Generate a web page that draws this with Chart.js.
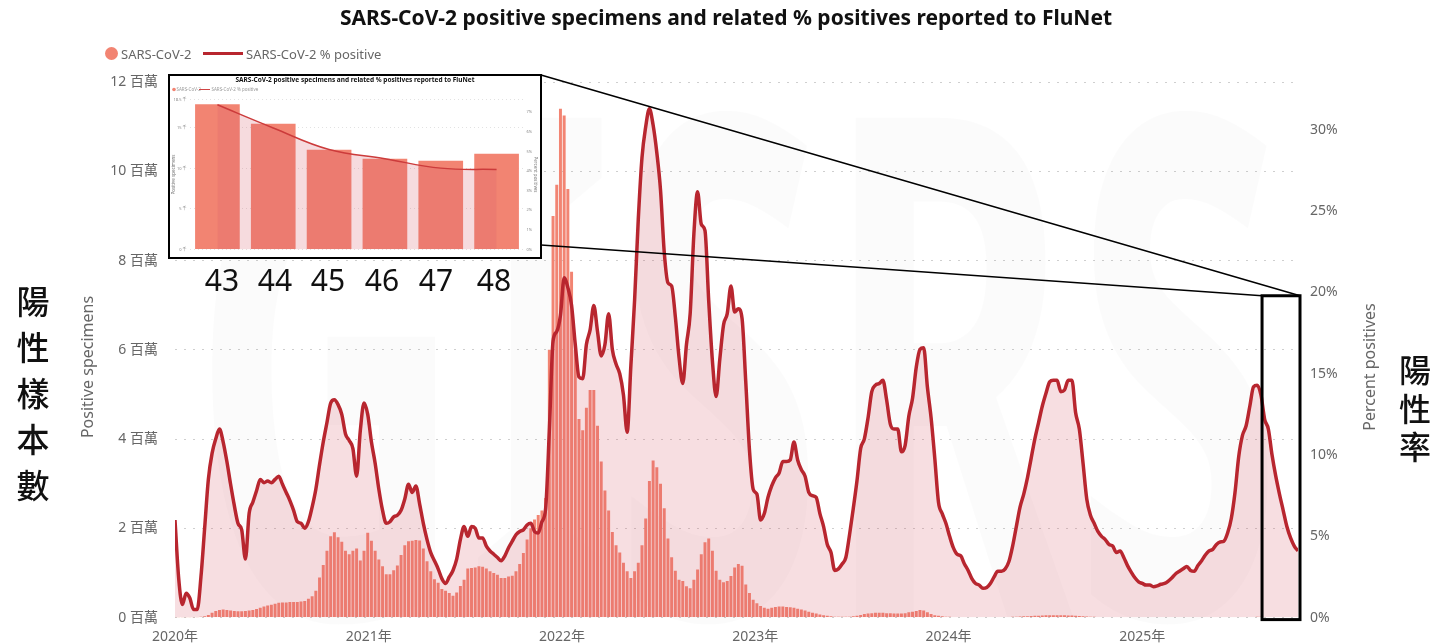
<!DOCTYPE html>
<html><head><meta charset="utf-8">
<script src="https://cdn.jsdelivr.net/npm/chart.js@4/dist/chart.umd.min.js"></script>
<style>
html,body{margin:0;padding:0;background:#fff;}
#wrap{position:relative;width:1436px;height:643px;overflow:hidden;font-family:"Noto Sans","Noto Sans CJK TC",sans-serif;}
#main{position:absolute;left:0;top:0;}
#title{position:absolute;left:8px;width:1436px;top:3px;text-align:center;font-weight:700;font-size:21px;color:#111;white-space:nowrap;}
.lg{position:absolute;font-size:13px;color:#666;line-height:16px;top:46px;white-space:nowrap;}
#lgDot{position:absolute;left:105px;top:47px;width:13px;height:13px;border-radius:50%;background:#f28472;}
#lgLine{position:absolute;left:203px;top:52px;width:40px;height:3px;background:#b8262f;}
#inset{position:absolute;left:168px;top:74px;width:374px;height:185px;box-sizing:border-box;border:2.5px solid #000;background:#fff;}
#inset canvas{display:block;}
.num{position:absolute;top:280px;font-size:30px;color:#111;transform:translate(-50%,-50%);line-height:1;}
.cjk{position:absolute;font-family:"Noto Sans CJK TC","Noto Sans CJK SC",sans-serif;font-weight:500;color:#111;text-align:center;}
#cjkL{left:13px;top:277px;width:40px;font-size:33px;line-height:46px;}
#cjkR{left:1395px;top:349px;width:40px;font-size:32px;line-height:38.5px;}
</style></head>
<body>
<div id="wrap">
<canvas id="main" width="1436" height="643"></canvas>
<div id="title">SARS-CoV-2 positive specimens and related % positives reported to FluNet</div>
<div id="lgDot"></div><div class="lg" style="left:121px">SARS-CoV-2</div>
<div id="lgLine"></div><div class="lg" style="left:246px">SARS-CoV-2 % positive</div>
<div id="inset"><canvas id="insetCanvas" width="369" height="180"></canvas></div>
<div id="nums"></div>
<div class="cjk" id="cjkL">陽<br>性<br>樣<br>本<br>數</div>
<div class="cjk" id="cjkR">陽<br>性<br>率</div>
</div>
<script>
// ---- main chart data (weekly, index 0 = first week of 2020) ----
const weeklyPositivesMillions = [
0.01,0.01,0.01,0.01,0.01,0.01,0.01,0.02,0.03,0.06,
0.11,0.15,0.17,0.18,0.17,0.16,0.15,0.14,0.14,0.15,
0.16,0.17,0.19,0.22,0.25,0.27,0.29,0.31,0.33,0.34,
0.34,0.35,0.35,0.35,0.36,0.37,0.42,0.48,0.6,0.9,
1.18,1.5,1.82,1.91,1.8,1.7,1.5,1.42,1.5,1.55,
1.28,1.5,1.9,1.72,1.5,1.3,1.15,0.97,0.97,1.06,
1.17,1.4,1.62,1.71,1.72,1.74,1.73,1.55,1.26,1.04,
0.86,0.78,0.64,0.6,0.55,0.49,0.56,0.71,0.85,1.1,
1.11,1.12,1.15,1.14,1.1,1.04,1.0,0.96,0.89,0.89,
0.92,0.94,1.04,1.2,1.45,1.75,2.0,2.2,2.3,2.4,
2.68,6.0,9.0,9.7,11.4,11.25,9.6,7.75,6.0,4.45,
4.2,4.7,5.1,5.1,4.3,3.5,2.85,2.4,1.92,1.62,
1.46,1.23,1.04,0.89,1.04,1.23,1.62,2.22,3.06,3.52,
3.37,3.0,2.45,1.77,1.35,1.05,0.85,0.82,0.7,0.66,
0.85,1.08,1.42,1.69,1.77,1.5,1.05,0.85,0.79,0.82,
0.93,1.12,1.2,1.16,0.74,0.55,0.4,0.32,0.26,0.22,
0.2,0.22,0.24,0.25,0.25,0.24,0.23,0.22,0.2,0.18,
0.16,0.13,0.11,0.09,0.07,0.05,0.04,0.03,0.02,0.02,
0.02,0.02,0.02,0.03,0.04,0.06,0.08,0.09,0.1,0.11,
0.11,0.11,0.1,0.1,0.09,0.09,0.09,0.1,0.12,0.13,
0.15,0.17,0.16,0.12,0.08,0.05,0.04,0.03,0.02,0.02,
0.015,0.015,0.015,0.015,0.015,0.015,0.015,0.015,0.015,0.015,
0.015,0.015,0.015,0.015,0.015,0.015,0.02,0.02,0.025,0.03,
0.03,0.035,0.04,0.04,0.045,0.05,0.05,0.05,0.05,0.05,
0.05,0.045,0.045,0.04,0.035,0.03,0.025,0.02,0.02,0.015,
0.014,0.014,0.014,0.014,0.014,0.014,0.014,0.014,0.014,0.014,
0.013,0.013,0.013,0.013,0.013,0.013,0.013,0.013,0.013,0.013,
0.013,0.013,0.013,0.013,0.013,0.013,0.013,0.013,0.013,0.013,
0.014,0.014,0.014,0.014,0.014,0.014,0.014,0.014,0.014,0.014,
0.015,0.016,0.017,0.018,0.016,0.014,0.013,0.012,0.012,0.012,
0.012,0.011,0.011,0.012
];
const weeklyPercentPositive = [
6.0,2.4,0.8,1.5,1.2,0.5,0.5,2.5,5.5,8.5,
10.1,11.0,11.6,10.8,9.6,8.2,6.9,5.8,5.4,3.6,
6.4,7.1,7.8,8.5,8.3,8.4,8.3,8.5,8.7,8.2,
7.7,7.2,6.6,5.9,5.8,5.5,5.9,6.8,7.9,9.4,
10.8,12.0,13.2,13.4,13.1,12.5,11.3,10.9,10.4,8.7,
11.5,13.2,12.5,10.8,9.5,7.9,6.6,5.8,5.9,6.2,
6.3,6.6,7.3,8.2,7.7,8.1,7.0,5.8,4.8,4.0,
3.5,3.0,2.4,2.1,2.5,2.9,3.6,4.8,5.6,5.0,
5.6,5.5,4.9,4.9,4.4,4.1,3.9,3.7,3.5,3.8,
4.3,4.7,5.1,5.3,5.4,5.7,5.8,5.3,5.2,5.9,
6.7,11.5,17.0,17.6,18.6,20.9,20.3,19.2,16.8,14.8,
14.7,16.8,17.7,19.2,17.6,16.1,16.8,18.7,16.5,15.6,
15.0,13.7,11.4,15.5,19.5,24.5,28.3,30.2,31.3,30.3,
28.6,26.3,22.5,20.6,20.4,18.5,16.0,14.4,16.8,18.7,
23.6,26.2,24.2,23.8,19.5,15.8,13.6,15.9,18.0,18.7,
20.4,18.8,19.0,18.4,14.5,10.3,7.9,7.6,6.0,6.4,
7.4,8.1,8.6,8.9,9.6,9.6,9.7,10.8,9.7,9.1,
8.7,7.7,7.5,7.4,6.4,5.6,4.5,4.0,2.9,3.0,
3.3,3.7,5.1,6.7,8.4,10.4,11.0,12.3,13.9,14.3,
14.4,14.6,13.4,11.9,11.6,11.6,10.2,10.6,12.4,13.5,
15.4,16.5,16.6,14.2,12.3,9.8,7.1,6.4,5.8,5.0,
4.3,3.9,3.8,3.3,2.9,2.4,2.1,2.0,1.8,1.85,
2.1,2.5,2.85,2.85,3.0,3.45,4.4,5.6,6.8,7.6,
8.6,9.8,11.0,12.0,13.0,13.8,14.5,14.6,14.6,13.9,
14.0,14.6,14.6,12.6,11.6,9.5,7.3,6.3,5.8,5.3,
5.0,4.8,4.5,4.4,4.0,4.1,3.7,3.2,2.8,2.45,
2.2,2.1,2.0,2.0,1.9,1.95,2.05,2.1,2.25,2.45,
2.7,2.85,3.0,3.15,2.9,2.85,3.2,3.5,3.85,4.1,
4.2,4.5,4.65,4.7,5.2,6.1,7.7,9.9,11.2,11.8,
13.0,14.2,14.3,13.7,12.2,11.6,10.0,8.7,7.6,6.6,
5.6,4.9,4.4,4.1
];
const yearTickWeeks = [0, 52.29, 104.43, 156.57, 208.71, 261];
const yearTickLabels = ['2020年','2021年','2022年','2023年','2024年','2025年'];
const highlightStartWeek = 293.3;
const highlightTopPct = 19.8;

// ---- inset (zoomed last six weeks) data ----
const insetWeekNumbers = ['43','44','45','46','47','48'];
const insetDateLabels = ['','11月2日','11月9日','11月16日','11月23日','11月30日'];
const insetPositivesThousands = [17.9,15.5,12.3,11.2,10.95,11.8];
const insetPercentPositive = [7.38,6.2,5.1,4.63,4.15,4.08];

const FONT = '"Noto Sans","Noto Sans CJK TC",sans-serif';
const weekIndex = weeklyPercentPositive.map((_, i) => i);

const watermark = {
  id: 'watermark',
  beforeDatasetsDraw(chart) {
    const {ctx, chartArea: a} = chart;
    ctx.save();
    ctx.font = 'bold 700px ' + FONT;
    const w = ctx.measureText('GISRS').width;
    ctx.translate(a.left + 15, a.bottom);
    ctx.scale((a.right - a.left - 30) / w, 1);
    ctx.fillStyle = 'rgba(0,0,0,0.014)';
    ctx.textBaseline = 'alphabetic';
    ctx.fillText('GISRS', 0, 0);
    ctx.restore();
  }
};
const axisTitles = {
  id: 'axisTitles',
  afterDraw(chart) {
    const ctx = chart.ctx;
    ctx.save();
    ctx.fillStyle = '#666';
    ctx.font = '16px ' + FONT;
    ctx.textAlign = 'center'; ctx.textBaseline = 'middle';
    [[88, 'Positive specimens'], [1370, 'Percent positives']].forEach(([x, t]) => {
      ctx.save(); ctx.translate(x, 367); ctx.rotate(-Math.PI / 2); ctx.fillText(t, 0, 0); ctx.restore();
    });
    ctx.restore();
  }
};
const callout = {
  id: 'callout',
  afterDraw(chart) {
    const {ctx, chartArea: a, scales} = chart;
    const bx0 = scales.x.getPixelForValue(highlightStartWeek);
    const bx1 = a.right + 2;
    const by0 = scales.y1.getPixelForValue(highlightTopPct);
    const by1 = a.bottom + 2;
    ctx.save();
    ctx.strokeStyle = '#000';
    ctx.lineWidth = 1.5;
    ctx.beginPath();
    ctx.moveTo(541, 75); ctx.lineTo(bx1, by0);
    ctx.moveTo(541, 245); ctx.lineTo(bx0, by0);
    ctx.stroke();
    ctx.lineWidth = 3;
    ctx.strokeRect(bx0, by0, bx1 - bx0, by1 - by0);
    ctx.restore();
  }
};

new Chart(document.getElementById('main'), {
  type: 'bar',
  data: {
    labels: weekIndex,
    datasets: [
      {
        type: 'line', label: 'SARS-CoV-2 % positive', data: weeklyPercentPositive, yAxisID: 'y1',
        borderColor: '#b8262f', borderWidth: 3.5, pointRadius: 0, cubicInterpolationMode: 'monotone',
        fill: 'origin', backgroundColor: 'rgba(214,92,104,0.2)', order: 0
      },
      {
        type: 'bar', label: 'SARS-CoV-2', data: weeklyPositivesMillions, yAxisID: 'y',
        backgroundColor: '#f28472', barPercentage: 1, categoryPercentage: 0.8, order: 1
      }
    ]
  },
  options: {
    responsive: false, animation: false, devicePixelRatio: 1,
    layout: {padding: {left: 75, right: 53, top: 82, bottom: 0}},
    plugins: {legend: {display: false}, title: {display: false}, tooltip: {enabled: false}},
    scales: {
      x: {
        type: 'linear', min: 0, max: weekIndex.length - 1, offset: false,
        grid: {display: false, offset: false}, border: {display: false},
        afterBuildTicks: (s) => { s.ticks = yearTickWeeks.map(v => ({value: v})); },
        afterFit: (s) => { s.height = 25; },
        ticks: {color: '#666', font: {family: FONT, size: 14}, padding: 3, autoSkip: false, maxRotation: 0,
          callback: (v, i) => yearTickLabels[i]}
      },
      y: {
        position: 'left', min: 0, max: 12,
        afterFit: (s) => { s.width = 100; },
        grid: {color: '#cfcfcf', lineWidth: 1, drawTicks: false},
        border: {display: false, dash: [2, 7]},
        ticks: {stepSize: 2, color: '#666', font: {family: FONT, size: 14}, padding: 17,
          callback: (v) => v + ' 百萬'}
      },
      y1: {
        position: 'right', min: 0, max: 32.95,
        afterFit: (s) => { s.width = 85; },
        grid: {display: false, drawTicks: false}, border: {display: false},
        ticks: {stepSize: 5, includeBounds: false, color: '#666', font: {family: FONT, size: 14}, padding: 12,
          callback: (v) => v + '%'}
      }
    }
  },
  plugins: [watermark, axisTitles, callout]
});

// ---- inset chart ----
const insetText = {
  id: 'insetText',
  afterDraw(chart) {
    const ctx = chart.ctx;
    ctx.save();
    ctx.fillStyle = '#111';
    ctx.font = 'bold 6.5px ' + FONT;
    ctx.textAlign = 'center'; ctx.textBaseline = 'middle';
    ctx.fillText('SARS-CoV-2 positive specimens and related % positives reported to FluNet', 185, 4);
    ctx.font = '4.5px ' + FONT;
    ctx.textAlign = 'left';
    ctx.beginPath(); ctx.fillStyle = '#f28472'; ctx.arc(4, 13.5, 1.8, 0, Math.PI * 2); ctx.fill();
    ctx.fillStyle = '#999';
    ctx.fillText('SARS-CoV-2', 6.5, 13.5);
    ctx.strokeStyle = '#d04545'; ctx.lineWidth = 1;
    ctx.beginPath(); ctx.moveTo(29, 13.5); ctx.lineTo(40, 13.5); ctx.stroke();
    ctx.fillText('SARS-CoV-2 % positive', 41.5, 13.5);
    ctx.restore();
  }
};
new Chart(document.getElementById('insetCanvas'), {
  type: 'bar',
  data: {
    labels: insetDateLabels,
    datasets: [
      {type: 'line', data: insetPercentPositive, yAxisID: 'y1', borderColor: '#cc3b3b', borderWidth: 1.5,
        pointRadius: 0, tension: 0.4, fill: 'origin', backgroundColor: 'rgba(214,92,104,0.22)', order: 0},
      {type: 'bar', data: insetPositivesThousands, yAxisID: 'y', backgroundColor: '#f28472',
        barPercentage: 1, categoryPercentage: 0.8, order: 1}
    ]
  },
  options: {
    responsive: false, animation: false, devicePixelRatio: 1,
    layout: {padding: {left: 0, right: 0, top: 23.5, bottom: 0}},
    plugins: {legend: {display: false}, tooltip: {enabled: false}},
    scales: {
      x: {grid: {display: false}, border: {display: false}, afterFit: (s) => { s.height = 6.5; },
        ticks: {color: '#888', font: {family: FONT, size: 4}, padding: 1, maxRotation: 0, autoSkip: false}},
      y: {min: 0, max: 18.5, afterFit: (s) => { s.width = 19.5; },
        grid: {color: '#e2e2e2', drawTicks: false}, border: {display: false, dash: [1, 3]},
        ticks: {stepSize: 5, color: '#888', font: {family: FONT, size: 4}, padding: 3, callback: (v) => v + ' 千'},
        title: {display: true, text: 'Positive specimens', color: '#777', font: {family: FONT, size: 4.5}, padding: {top: 1, bottom: 0}}},
      y1: {position: 'right', min: 0, max: 7.65, afterFit: (s) => { s.width = 14.5; },
        grid: {display: false, drawTicks: false}, border: {display: false},
        ticks: {stepSize: 1, includeBounds: false, color: '#888', font: {family: FONT, size: 4}, padding: 2, callback: (v) => v + '%'},
        title: {display: true, text: 'Percent positives', color: '#777', font: {family: FONT, size: 4.5}, padding: {top: 1, bottom: 0}}}
    }
  },
  plugins: [insetText]
});

// ---- week numbers under the inset ----
const numX = [222, 275, 328, 382, 436, 494];
const nums = document.getElementById('nums');
insetWeekNumbers.forEach((t, i) => {
  const d = document.createElement('div');
  d.className = 'num'; d.textContent = t; d.style.left = numX[i] + 'px';
  nums.appendChild(d);
});
</script>
</body></html>
